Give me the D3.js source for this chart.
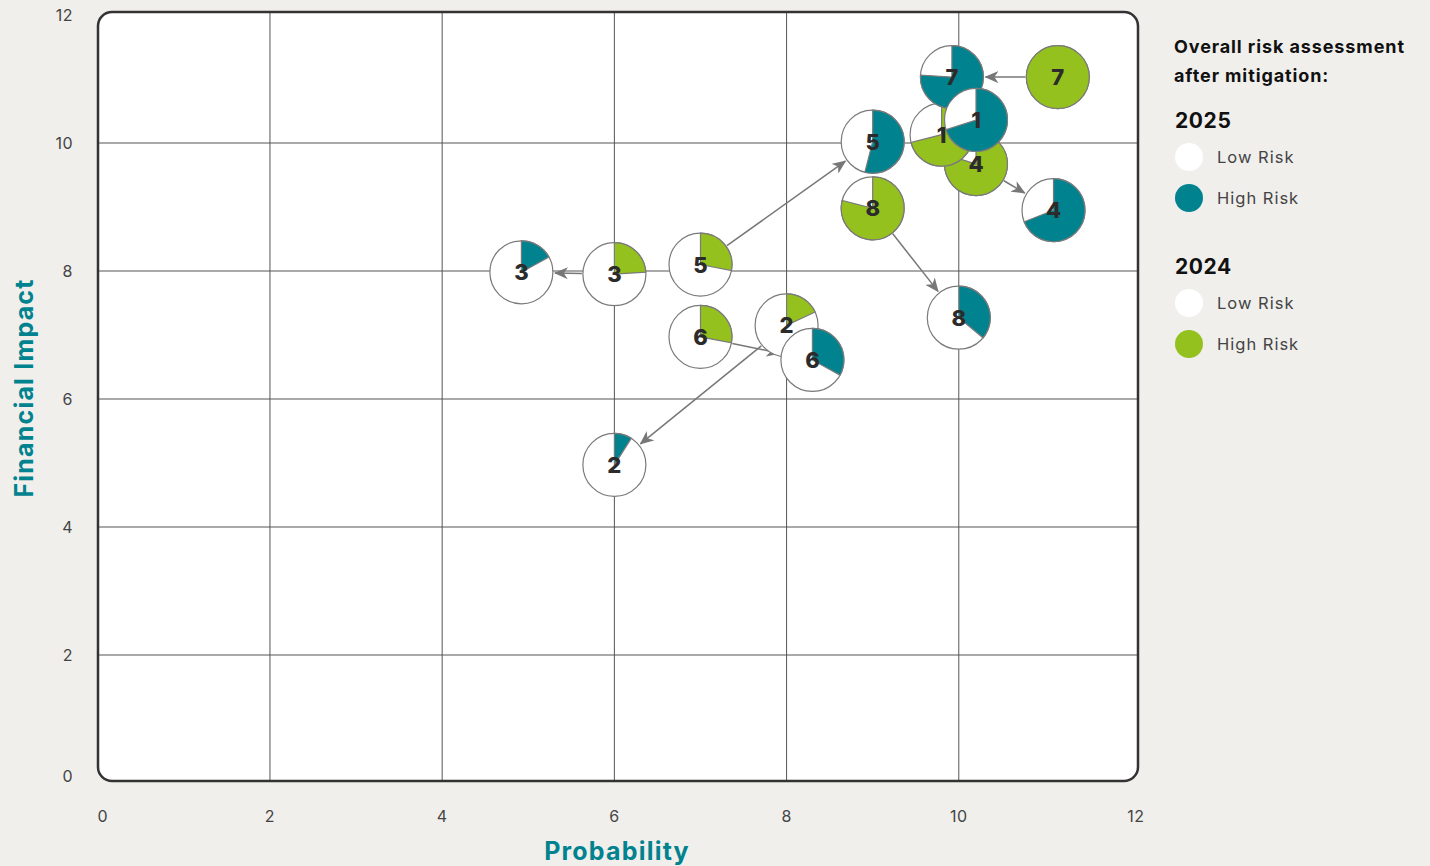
<!DOCTYPE html>
<html>
<head>
<meta charset="utf-8">
<script src="https://cdn.jsdelivr.net/npm/d3@7"></script>
<style>
  html, body { margin: 0; padding: 0; background: #f0efec; }
  svg { display: block; font-family: "Inter", "Open Sans", sans-serif; }
  .tick-label { fill: #444; font-size: 16px; letter-spacing: 0.5px; }
  .axis-title { fill: #00838f; font-size: 25px; font-weight: 700; letter-spacing: 1.2px; }
  .pie-label { fill: #2b2b2b; font-size: 22px; font-weight: 800; }
  .legend-title { fill: #111; font-size: 18px; font-weight: 700; letter-spacing: 0.9px; }
  .legend-year { fill: #111; font-size: 21px; font-weight: 700; letter-spacing: 0.6px; }
  .legend-text { fill: #444; font-size: 16.5px; letter-spacing: 1px; }
</style>
</head>
<body>
<svg id="chart" width="1430" height="866"></svg>
<script>
// risk ids
const riskIds = ["1", "2", "3", "4", "5", "6", "7", "8"];

// 2024 assessment
const prob2024 = [9.8, 8.0, 6.0, 10.2, 7.0, 7.0, 11.15, 9.0];
const impact2024 = [10.13, 7.15, 7.95, 9.67, 8.1, 6.97, 11.03, 8.98];
const high2024 = [0.71, 0.18, 0.24, 0.8, 0.28, 0.28, 1.0, 0.79];

// 2025 assessment
const prob2025 = [10.2, 6.0, 4.92, 11.1, 9.0, 8.3, 9.92, 10.0];
const impact2025 = [10.36, 4.97, 7.98, 8.95, 10.02, 6.61, 11.03, 7.27];
const high2025 = [0.7, 0.09, 0.17, 0.69, 0.54, 0.33, 0.76, 0.36];

const xTicks = [0, 2, 4, 6, 8, 10, 12];
const yTicks = [0, 2, 4, 6, 8, 10, 12];

const TEAL = "#00838f",
  GREEN = "#95c11f",
  LOW = "#ffffff",
  GRID = "#555",
  EDGE = "#7a7a7a";
const R = 31.5;

const svg = d3.select("#chart");

const x = d3.scaleLinear().domain([0, 12]).range([97.75, 1131]);
const y = d3.scaleLinear().domain([0, 12]).range([783, 15]);

// plot frame
const box = { x0: 98, y0: 12, x1: 1138, y1: 781 };
svg
  .append("rect")
  .attr("x", box.x0)
  .attr("y", box.y0)
  .attr("width", box.x1 - box.x0)
  .attr("height", box.y1 - box.y0)
  .attr("rx", 14)
  .attr("fill", "#fff");

const grid = svg.append("g");
grid
  .selectAll("line.v")
  .data(xTicks.filter(d => d > 0 && d < 12))
  .enter()
  .append("line")
  .attr("x1", d => x(d))
  .attr("x2", d => x(d))
  .attr("y1", box.y0)
  .attr("y2", box.y1)
  .attr("stroke", GRID)
  .attr("stroke-width", 1);
grid
  .selectAll("line.h")
  .data(yTicks.filter(d => d > 0 && d < 12))
  .enter()
  .append("line")
  .attr("y1", d => y(d))
  .attr("y2", d => y(d))
  .attr("x1", box.x0)
  .attr("x2", box.x1)
  .attr("stroke", GRID)
  .attr("stroke-width", 1);

svg
  .append("rect")
  .attr("x", box.x0)
  .attr("y", box.y0)
  .attr("width", box.x1 - box.x0)
  .attr("height", box.y1 - box.y0)
  .attr("rx", 14)
  .attr("fill", "none")
  .attr("stroke", "#333")
  .attr("stroke-width", 2.5);

// tick labels
svg
  .append("g")
  .selectAll("text")
  .data(xTicks)
  .enter()
  .append("text")
  .attr("class", "tick-label")
  .attr("x", d => x(d) + (d === 0 || d === 12 ? 5 : 0))
  .attr("y", 822)
  .attr("text-anchor", "middle")
  .text(d => d);

svg
  .append("g")
  .selectAll("text")
  .data(yTicks)
  .enter()
  .append("text")
  .attr("class", "tick-label")
  .attr("x", 73)
  .attr("y", d => Math.min(y(d), 776) + 6)
  .attr("text-anchor", "end")
  .text(d => d);

svg
  .append("text")
  .attr("class", "axis-title")
  .attr("x", 617)
  .attr("y", 860)
  .attr("text-anchor", "middle")
  .text("Probability");

svg
  .append("text")
  .attr("class", "axis-title")
  .attr("transform", "translate(33,388) rotate(-90)")
  .attr("text-anchor", "middle")
  .text("Financial Impact");

// arrow marker
svg
  .append("defs")
  .append("marker")
  .attr("id", "arrow")
  .attr("viewBox", "0 0 14 12")
  .attr("refX", 13)
  .attr("refY", 6)
  .attr("markerWidth", 14)
  .attr("markerHeight", 12)
  .attr("markerUnits", "userSpaceOnUse")
  .attr("orient", "auto")
  .append("path")
  .attr("d", "M0,0 L14,6 L0,12 L4,6 Z")
  .attr("fill", "#777");

const risks = riskIds.map((id, i) => ({
  id,
  from: { x: x(prob2024[i]), y: y(impact2024[i]), high: high2024[i] },
  to: { x: x(prob2025[i]), y: y(impact2025[i]), high: high2025[i] }
}));

// arrows from 2024 to 2025, trimmed at circle edges
svg
  .append("g")
  .selectAll("line")
  .data(risks.filter(d => Math.hypot(d.to.x - d.from.x, d.to.y - d.from.y) > 2 * R + 6))
  .enter()
  .append("line")
  .each(function(d) {
    const dx = d.to.x - d.from.x,
      dy = d.to.y - d.from.y,
      len = Math.hypot(dx, dy);
    const ux = dx / len,
      uy = dy / len;
    d3.select(this)
      .attr("x1", d.from.x + ux * (R + 1))
      .attr("y1", d.from.y + uy * (R + 1))
      .attr("x2", d.to.x - ux * (R + 2))
      .attr("y2", d.to.y - uy * (R + 2));
  })
  .attr("stroke", "#777")
  .attr("stroke-width", 1.5)
  .attr("marker-end", "url(#arrow)");

const pie = d3
  .pie()
  .sort(null)
  .value(d => d);
const arc = d3
  .arc()
  .innerRadius(0)
  .outerRadius(R);

function drawPies(list, key, hiColor) {
  const g = svg
    .append("g")
    .selectAll("g")
    .data(list)
    .enter()
    .append("g")
    .attr("transform", d => "translate(" + d[key].x + "," + d[key].y + ")");

  g.append("circle")
    .attr("r", R)
    .attr("fill", LOW)
    .attr("stroke", EDGE)
    .attr("stroke-width", 1.2);

  g.selectAll("path")
    .data(d => pie([d[key].high, 1 - d[key].high]).filter(s => s.index === 0 && s.value > 0))
    .enter()
    .append("path")
    .attr("d", arc)
    .attr("fill", hiColor)
    .attr("stroke", EDGE)
    .attr("stroke-width", 1.2);

  g.append("text")
    .attr("class", "pie-label")
    .attr("text-anchor", "middle")
    .attr("dy", "0.36em")
    .text(d => d.id);
}

const drawOrder = risks.slice().reverse();
drawPies(drawOrder, "from", GREEN);
drawPies(drawOrder, "to", TEAL);

// legend
const legend = svg.append("g").attr("transform", "translate(1174,0)");
legend
  .append("text")
  .attr("class", "legend-title")
  .attr("y", 53)
  .text("Overall risk assessment");
legend
  .append("text")
  .attr("class", "legend-title")
  .attr("y", 82)
  .text("after mitigation:");

const legendGroups = [
  { year: "2025", high: TEAL, top: 120 },
  { year: "2024", high: GREEN, top: 266 }
];
legendGroups.forEach(lg => {
  legend
    .append("text")
    .attr("class", "legend-year")
    .attr("x", 1)
    .attr("y", lg.top + 8)
    .text(lg.year);
  [["Low Risk", LOW], ["High Risk", lg.high]].forEach((item, i) => {
    const cy = lg.top + 37 + i * 41;
    legend
      .append("circle")
      .attr("cx", 15)
      .attr("cy", cy)
      .attr("r", 14)
      .attr("fill", item[1]);
    legend
      .append("text")
      .attr("class", "legend-text")
      .attr("x", 43)
      .attr("y", cy + 6)
      .text(item[0]);
  });
});
</script>
</body>
</html>
